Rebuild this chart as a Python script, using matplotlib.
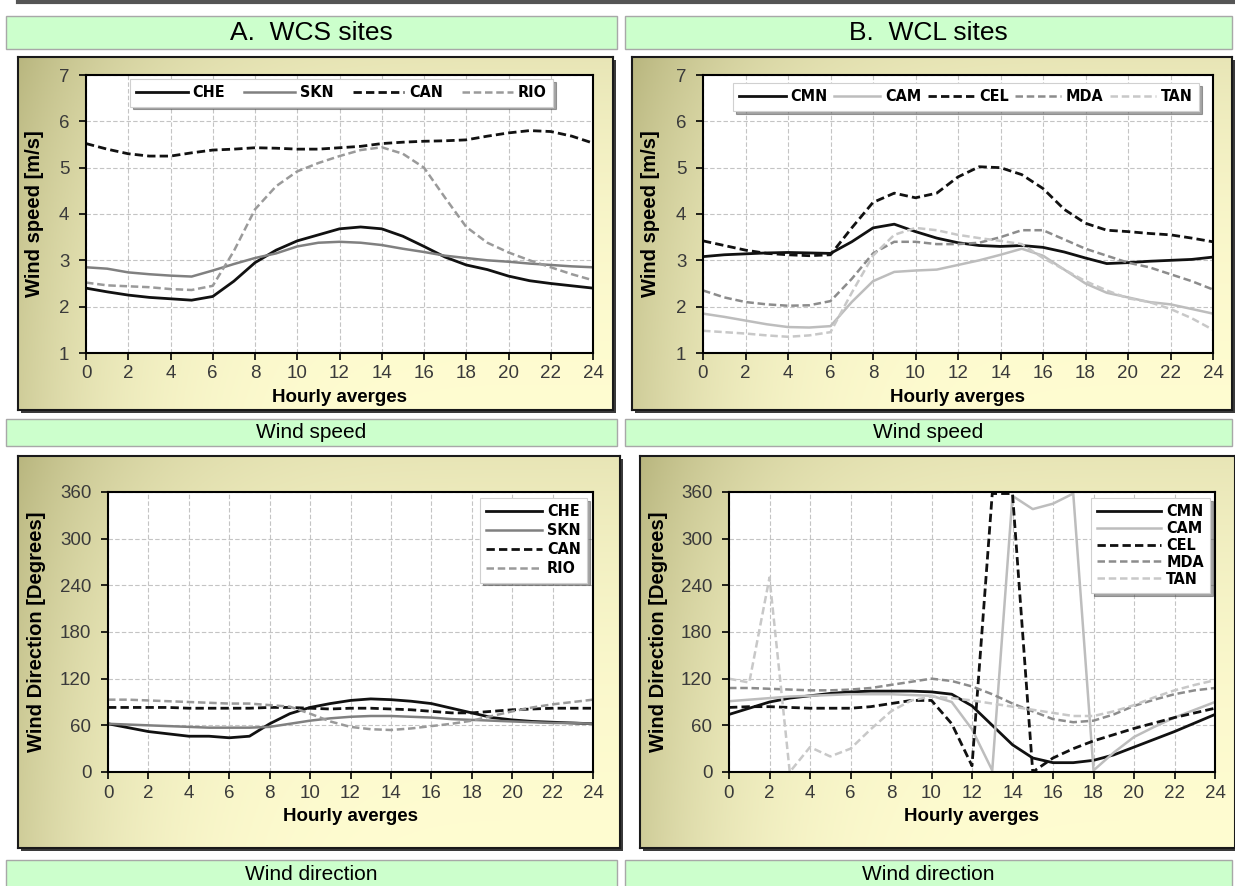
import matplotlib
matplotlib.use('Agg')
import matplotlib.pyplot as plt
import numpy as np
from matplotlib.patches import Rectangle
from matplotlib.lines import Line2D

plt.rcParams['font.family'] = ['Liberation Sans', 'DejaVu Sans']

# ---------------- data (hourly averages) ----------------
hours = list(range(25))

# A. WCS sites - wind speed [m/s]
che_ws = [2.40, 2.32, 2.25, 2.20, 2.17, 2.14, 2.22, 2.55, 2.95, 3.22, 3.42, 3.55, 3.68,
          3.72, 3.68, 3.52, 3.30, 3.07, 2.90, 2.80, 2.66, 2.56, 2.50, 2.45, 2.40]
skn_ws = [2.85, 2.82, 2.74, 2.70, 2.67, 2.65, 2.78, 2.92, 3.05, 3.15, 3.30, 3.38, 3.40,
          3.38, 3.33, 3.25, 3.18, 3.10, 3.05, 3.00, 2.97, 2.93, 2.90, 2.87, 2.85]
can_ws = [5.52, 5.40, 5.30, 5.25, 5.25, 5.32, 5.38, 5.40, 5.43, 5.42, 5.40, 5.40, 5.43,
          5.46, 5.52, 5.55, 5.57, 5.58, 5.60, 5.68, 5.75, 5.80, 5.78, 5.68, 5.53]
rio_ws = [2.52, 2.46, 2.44, 2.42, 2.38, 2.36, 2.45, 3.20, 4.10, 4.60, 4.92, 5.10, 5.25,
          5.38, 5.44, 5.30, 5.00, 4.35, 3.72, 3.38, 3.17, 3.00, 2.85, 2.70, 2.57]

# B. WCL sites - wind speed [m/s]
cmn_ws = [3.08, 3.12, 3.14, 3.16, 3.17, 3.16, 3.15, 3.40, 3.70, 3.78, 3.62, 3.48, 3.38,
          3.32, 3.30, 3.32, 3.28, 3.18, 3.05, 2.93, 2.95, 2.98, 3.00, 3.02, 3.07]
cam_ws = [1.85, 1.78, 1.70, 1.62, 1.56, 1.55, 1.58, 2.10, 2.55, 2.75, 2.78, 2.80, 2.90,
          3.00, 3.12, 3.25, 3.10, 2.80, 2.50, 2.30, 2.20, 2.10, 2.05, 1.95, 1.85]
cel_ws = [3.42, 3.32, 3.22, 3.15, 3.12, 3.10, 3.12, 3.70, 4.25, 4.45, 4.35, 4.45, 4.80,
          5.02, 5.00, 4.85, 4.55, 4.10, 3.80, 3.65, 3.62, 3.58, 3.55, 3.48, 3.40]
mda_ws = [2.35, 2.20, 2.10, 2.05, 2.02, 2.03, 2.12, 2.60, 3.15, 3.40, 3.40, 3.35, 3.35,
          3.38, 3.50, 3.65, 3.65, 3.45, 3.25, 3.10, 2.95, 2.85, 2.70, 2.55, 2.37]
tan_ws = [1.48, 1.45, 1.42, 1.38, 1.35, 1.38, 1.45, 2.30, 3.10, 3.55, 3.70, 3.65, 3.55,
          3.48, 3.42, 3.35, 3.05, 2.80, 2.55, 2.35, 2.18, 2.10, 1.95, 1.75, 1.50]

# A. WCS sites - wind direction [degrees]
che_wd = [62, 57, 52, 49, 46, 46, 44, 46, 62, 75, 83, 88, 92, 94, 93, 91, 88, 82, 76, 70, 67, 65, 64, 63, 62]
skn_wd = [62, 61, 60, 59, 58, 57, 57, 57, 58, 62, 66, 69, 71, 72, 72, 71, 70, 68, 67, 66, 65, 64, 63, 63, 62]
can_wd = [83, 83, 83, 83, 82, 82, 82, 82, 83, 83, 82, 81, 82, 82, 81, 80, 78, 76, 76, 78, 80, 81, 82, 82, 82]
rio_wd = [93, 93, 92, 91, 90, 89, 88, 88, 86, 84, 75, 65, 58, 55, 54, 56, 59, 62, 66, 72, 78, 83, 87, 90, 93]

# B. WCL sites - wind direction [degrees]
cmn_wd = [74, 82, 90, 95, 98, 101, 103, 104, 104, 104, 103, 100, 85, 60, 35, 18, 12, 12, 15, 22, 32, 42, 52, 63, 74]
cam_wd = [91, 93, 95, 97, 98, 99, 100, 100, 100, 99, 98, 90, 55, 2, 355, 338, 345, 358, 2, 25, 45, 58, 70, 80, 90]
cel_wd = [83, 84, 84, 83, 82, 82, 82, 84, 88, 92, 92, 62, 8, 358, 358, 0, 18, 30, 40, 48, 56, 63, 70, 76, 82]
mda_wd = [108, 108, 107, 106, 105, 105, 106, 108, 112, 116, 120, 117, 110, 100, 88, 78, 68, 64, 66, 74, 85, 93, 100, 105, 108]
tan_wd = [120, 115, 250, 0, 32, 20, 30, 55, 78, 92, 97, 95, 92, 88, 84, 80, 76, 72, 72, 78, 86, 96, 105, 112, 118]

# line styles per series
STYLE = {
    'CHE': dict(color='#111111', ls='-', lw=2.0),
    'SKN': dict(color='#808080', ls='-', lw=1.8),
    'CAN': dict(color='#111111', ls=(0, (3, 1.5)), lw=2.0),
    'RIO': dict(color='#9a9a9a', ls=(0, (3, 1.5)), lw=1.8),
    'CMN': dict(color='#111111', ls='-', lw=2.0),
    'CAM': dict(color='#bdbdbd', ls='-', lw=1.8),
    'CEL': dict(color='#111111', ls=(0, (3, 1.5)), lw=2.0),
    'MDA': dict(color='#8c8c8c', ls=(0, (3, 1.5)), lw=1.8),
    'TAN': dict(color='#c8c8c8', ls=(0, (3, 1.5)), lw=1.8),
}

W, H = 1235, 886
fig = plt.figure(figsize=(W / 100, H / 100), dpi=100)
fig.patch.set_facecolor('white')


def fbox(x0, y0, x1, y1):
    return [x0 / W, 1 - y1 / H, (x1 - x0) / W, (y1 - y0) / H]


def band(x0, y0, x1, y1, text, size):
    fig.patches.append(Rectangle((x0 / W, 1 - y1 / H), (x1 - x0) / W, (y1 - y0) / H,
                                 transform=fig.transFigure, facecolor='#ccffcc',
                                 edgecolor='#a8a8a8', lw=1.0, zorder=-1))
    fig.text((x0 + x1) / 2 / W, 1 - (y0 + y1) / 2 / H, text, ha='center', va='center',
             fontsize=size, color='black')


def frame(x0, y0, x1, y1):
    # drop shadow behind the chart frame
    fig.patches.append(Rectangle(((x0 + 3) / W, 1 - (y1 + 3) / H), (x1 - x0) / W, (y1 - y0) / H,
                                 transform=fig.transFigure, facecolor='#3a3a3a',
                                 edgecolor='none', zorder=-1))
    bg = fig.add_axes(fbox(x0, y0, x1, y1))
    u = np.linspace(0, 1, 200)[None, :]
    v = np.linspace(0, 1, 200)[:, None]
    dark = np.clip(0.62 * (1 - u) ** 5 + 0.22 * (1 - v) ** 2.5 + 0.08 * (1 - v), 0, 1)
    light = np.array([1.0, 0.99, 0.82])
    olive = np.array([0.70, 0.69, 0.47])
    img = light[None, None, :] * (1 - dark[..., None]) + olive[None, None, :] * dark[..., None]
    bg.imshow(img, aspect='auto', extent=[0, 1, 0, 1])
    bg.set_xticks([])
    bg.set_yticks([])
    for s in bg.spines.values():
        s.set_linewidth(1.5)
        s.set_color('#1a1a1a')
    return bg


LEG_FONT = dict(family='DejaVu Sans', stretch='condensed', weight='bold', size=11.5)


def plot_panel(rect, series, ylim, yticks, ylabel, ylab_x, leg):
    ax = fig.add_axes(fbox(*rect))
    ax.set_facecolor('white')
    for name, vals in series:
        ax.plot(hours, vals, label=name, clip_on=True, **STYLE[name])
    ax.set_xlim(0, 24)
    ax.set_ylim(*ylim)
    ax.set_xticks(range(0, 25, 2))
    ax.set_yticks(yticks)
    ax.grid(True, color='#c4c4c4', lw=0.8, ls=(0, (4, 2)))
    ax.set_axisbelow(True)
    for s in ax.spines.values():
        s.set_linewidth(1.5)
        s.set_color('black')
    ax.tick_params(direction='out', length=5, width=1.2, colors='black',
                   labelsize=13.5, labelcolor='#3a3a3a', pad=4)
    ax.tick_params(axis='y', pad=7)
    ax.set_xlabel('Hourly averges', fontsize=13.5, fontweight='bold', labelpad=5)
    yc = (rect[1] + rect[3]) / 2
    fig.text(ylab_x / W, 1 - yc / H, ylabel, rotation=90, ha='center', va='center',
             fontsize=14.5, fontweight='bold')
    lg = ax.legend(**leg, frameon=True, fancybox=False, shadow=True, prop=LEG_FONT,
                   borderaxespad=0, handletextpad=0.3)
    lg.get_frame().set_edgecolor('#d0d0d0')
    lg.get_frame().set_linewidth(0.8)
    return ax


# top rule
fig.add_artist(Line2D([18 / W, 1], [1 - 2 / H, 1 - 2 / H], color='#555555', lw=3))

# header bands
band(6, 16, 617, 49, 'A.  WCS sites', 19)
band(625, 16, 1232, 49, 'B.  WCL sites', 19)

# chart frames
frame(18, 57, 613, 410)
frame(632, 57, 1232, 410)
frame(18, 456, 620, 848)
frame(640, 456, 1235, 848)

# middle / bottom captions
band(6, 419, 617, 446, 'Wind speed', 15)
band(625, 419, 1232, 446, 'Wind speed', 15)
band(6, 860, 617, 889, 'Wind direction', 15)
band(625, 860, 1232, 889, 'Wind direction', 15)

plot_panel((86, 75, 593, 353),
           [('CHE', che_ws), ('SKN', skn_ws), ('CAN', can_ws), ('RIO', rio_ws)],
           (1, 7), range(1, 8), 'Wind speed [m/s]', 35,
           dict(loc='upper center', bbox_to_anchor=(0.504, 0.986), ncol=4,
                columnspacing=1.2, handlelength=3.2))
plot_panel((703, 75, 1213, 353),
           [('CMN', cmn_ws), ('CAM', cam_ws), ('CEL', cel_ws), ('MDA', mda_ws), ('TAN', tan_ws)],
           (1, 7), range(1, 8), 'Wind speed [m/s]', 651,
           dict(loc='upper center', bbox_to_anchor=(0.516, 0.971), ncol=5,
                columnspacing=0.4, handlelength=2.9))
plot_panel((108, 492, 593, 772),
           [('CHE', che_wd), ('SKN', skn_wd), ('CAN', can_wd), ('RIO', rio_wd)],
           (0, 360), range(0, 361, 60), 'Wind Direction [Degrees]', 37,
           dict(loc='upper right', bbox_to_anchor=(0.988, 0.979), ncol=1,
                labelspacing=0.25, handlelength=3.5))
plot_panel((729, 492, 1215, 772),
           [('CMN', cmn_wd), ('CAM', cam_wd), ('CEL', cel_wd), ('MDA', mda_wd), ('TAN', tan_wd)],
           (0, 360), range(0, 361, 60), 'Wind Direction [Degrees]', 658,
           dict(loc='upper right', bbox_to_anchor=(0.99, 0.979), ncol=1,
                labelspacing=0.12, handlelength=4.0))

fig.savefig('out.png', dpi=100)
